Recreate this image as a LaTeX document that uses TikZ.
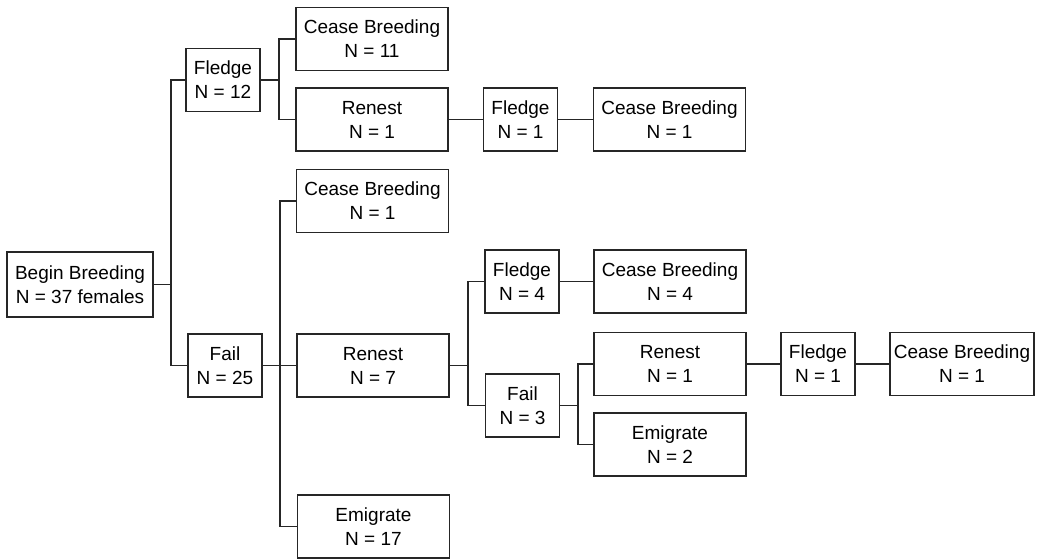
\documentclass[tikz,border=0pt]{standalone}
\usepackage{fontspec}
\setmainfont{Liberation Sans}
\usetikzlibrary{calc}
\begin{document}
\begin{tikzpicture}[x=1pt,y=-1pt,
  box/.style={draw=black!85,line width=1.5pt,align=center,inner sep=0pt,
    minimum height=63pt,font=\fontsize{19}{24}\selectfont},
  wide/.style={box,minimum width=152pt},
  narrow/.style={box,minimum width=74pt},
  link/.style={draw=black!85,line width=1.9pt}]
\useasboundingbox (0,0) rectangle (1045,559);
\node[box,minimum width=146pt,minimum height=65pt] (bb) at (80,284.5) {Begin Breeding\\N = 37 females};
\node[narrow] (f12) at (223,80) {Fledge\\N = 12};
\node[wide] (cb11) at (372,39) {Cease Breeding\\N = 11};
\node[wide] (rn1a) at (372,119.5) {Renest\\N = 1};
\node[narrow] (fl1a) at (520.5,119.5) {Fledge\\N = 1};
\node[wide] (cb1a) at (669.5,119.5) {Cease Breeding\\N = 1};
\node[wide] (cb1b) at (372.5,201) {Cease Breeding\\N = 1};
\node[narrow] (f25) at (225,365.5) {Fail\\N = 25};
\node[wide] (rn7) at (373,365.5) {Renest\\N = 7};
\node[wide] (em17) at (373.5,526.5) {Emigrate\\N = 17};
\node[narrow] (fl4) at (522,281.5) {Fledge\\N = 4};
\node[wide] (cb4) at (670,281.5) {Cease Breeding\\N = 4};
\node[narrow] (fa3) at (522.5,405.5) {Fail\\N = 3};
\node[wide] (rn1b) at (670,364) {Renest\\N = 1};
\node[wide] (em2) at (670,444.5) {Emigrate\\N = 2};
\node[narrow] (fl1b) at (818,364) {Fledge\\N = 1};
\node[box,minimum width=144pt] (cb1c) at (962,364) {Cease Breeding\\N = 1};
% elbow connectors
\draw[link] (bb.east) -- ++(17,0) coordinate (j1) |- (f12.west);
\draw[link] (j1) |- (f25.west);
\draw[link] (f12.east) -- ++(18,0) coordinate (j2) |- (cb11.west);
\draw[link] (j2) |- (rn1a.west);
\draw[link] (f25.east) -- (rn7.west);
\coordinate (j3) at ($(f25.east)+(17,0)$);
\draw[link] (cb1b.west) -| (j3);
\draw[link] (j3) |- (em17.west);
\draw[link] (rn7.east) -- ++(18,0) coordinate (j4) |- (fl4.west);
\draw[link] (j4) |- (fa3.west);
\draw[link] (fa3.east) -- ++(18,0) coordinate (j5) |- (rn1b.west);
\draw[link] (j5) |- (em2.west);
% straight connectors
\draw[link] (rn1a) -- (fl1a);
\draw[link] (fl1a) -- (cb1a);
\draw[link] (fl4) -- (cb4);
\draw[link] (rn1b) -- (fl1b);
\draw[link] (fl1b) -- (cb1c);
\end{tikzpicture}
\end{document}
